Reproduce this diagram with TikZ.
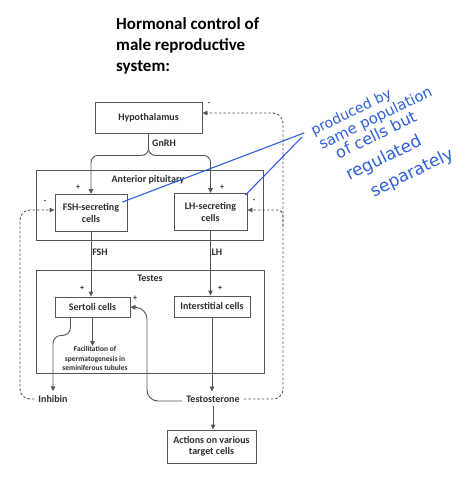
\documentclass[tikz,border=0pt]{standalone}
\usepackage{fontspec}
\setmainfont{Carlito}
\newfontfamily\hand{DejaVu Sans}
\usetikzlibrary{arrows.meta,calc}
\definecolor{lncol}{HTML}{555555}
\definecolor{txcol}{HTML}{2E2E2E}
\definecolor{ink}{HTML}{2F5FD9}
\tikzset{
  box/.style={draw=lncol,line width=0.9pt,fill=white,inner sep=0pt,align=center,
    font=\bfseries\fontsize{10}{11.5}\selectfont,text=txcol},
  cont/.style={draw=lncol,line width=0.9pt,inner sep=0pt},
  lbl/.style={font=\bfseries\fontsize{10}{11.5}\selectfont,text=txcol,inner sep=0pt},
  sgn/.style={font=\bfseries\fontsize{8}{9}\selectfont,text=txcol,inner sep=0pt},
  conn/.style={draw=lncol,line width=0.9pt},
  arr/.style={conn,-{Triangle[length=5pt,width=4.5pt]}},
  dsh/.style={conn,dash pattern=on 2.5pt off 2pt},
  darr/.style={dsh,-{Triangle[length=5pt,width=4.5pt]}},
  inkline/.style={draw=ink,line width=1.1pt,line cap=round},
  inktext/.style={text=ink,inner sep=0pt,align=left,font=\hand\fontsize{14.5}{16}\selectfont},
  ttl/.style={font=\bfseries\fontsize{17}{21}\selectfont,inner sep=0pt,anchor=base west}
}
\begin{document}
\begin{tikzpicture}[x=1pt,y=-1pt]
\useasboundingbox[fill=white] (0,0) rectangle (474,477);
% title
\node[ttl] (t1) at (116,29) {Hormonal control of};
\node[ttl] (t2) at (116,50) {male reproductive};
\node[ttl] (t3) at (116,71) {system:};
% containers
\node[cont,minimum width=227pt,minimum height=70pt] (ap) at (149.5,205) {};
\node[lbl] (aplbl) at (148,180) {Anterior pituitary};
\node[cont,minimum width=228pt,minimum height=103pt] (testes) at (150,321.5) {};
\node[lbl] (testeslbl) at (150,278) {Testes};
% boxes
\node[box,minimum width=107pt,minimum height=31pt] (hyp) at (148.5,117.5) {Hypothalamus};
\node[box,minimum width=72pt,minimum height=37pt] (fsh) at (91,213) {FSH-secreting\\cells};
\node[box,minimum width=73pt,minimum height=37pt] (lh) at (210.5,212) {LH-secreting\\cells};
\node[box,minimum width=75pt,minimum height=20pt] (sert) at (92.5,307) {Sertoli cells};
\node[box,minimum width=76pt,minimum height=21pt] (inter) at (212,306.5) {Interstitial cells};
\node[box,minimum width=89pt,minimum height=33pt] (act) at (211.5,446.5) {Actions on various\\target cells};
\node[lbl,align=center,font=\bfseries\fontsize{7.5}{9.6}\selectfont] (facil) at (95,358.5)
  {Facilitation of\\spermatogenesis in\\seminiferous tubules};
\node[lbl,inner sep=4pt] (inhibin) at (53,399) {Inhibin};
\node[lbl,inner sep=4pt] (testo) at (213,399) {Testosterone};
% labels
\node[lbl] (gnrh) at (164,143) {GnRH};
\node[lbl] (fshlbl) at (100,252) {FSH};
\node[lbl] (lhlbl) at (217,252) {LH};
\node[sgn] (p1) at (78,187) {+};
\node[sgn] (p2) at (222,187) {+};
\node[sgn] (p3) at (82,288) {+};
\node[sgn] (p4) at (220,288) {+};
\node[sgn] (p5) at (135,298) {+};
\node[sgn] (m1) at (45,202) {-};
\node[sgn] (m2) at (254,201) {-};
\node[sgn] (m3) at (209,104) {-};
% solid connectors
\draw[arr,rounded corners=7] (hyp.south) -- ++(0,22) -| (fsh.north);
\draw[arr,rounded corners=7] (hyp.south) -- ++(0,22) -| (lh.north);
\draw[arr] (fsh.south) -- (fsh.south |- sert.north);
\draw[arr] (lh.south) -- (lh.south |- inter.north);
\draw[arr] (sert.south) -- (sert.south |- facil.north);
\draw[arr,rounded corners=8] ([xshift=-22pt]sert.south) -- ++(0,18) -| (inhibin.north);
\draw[arr] (inter.south) -- (inter.south |- testo.north);
\draw[arr] (testo.south) -- (testo.south |- act.north);
\draw[arr,rounded corners=11] ([yshift=-2pt]testo.west) -| (147,308) -- (sert.east);
% dashed feedback
\coordinate (rb) at (283,399);
\coordinate (rt) at (283,113);
\coordinate (rm) at (283,226);
\coordinate (lb) at (20,399);
\coordinate (lt) at (20,210);
\draw[darr,rounded corners=10] (testo.east) -- (rb) -- (rt) -- ([yshift=4.5pt]hyp.east);
\draw[darr,rounded corners=6] (rm) -- (283,210) -- ([yshift=2pt]lh.east);
\draw[darr,rounded corners=10] (inhibin.west) -- (lb) -- (lt) -- ([yshift=3pt]fsh.west);
% handwritten note
\coordinate (apex) at (304,133);
\coordinate (apex2) at (302,137);
\draw[inkline] (apex) -- ([xshift=-5pt,yshift=11pt]fsh.east);
\draw[inkline] (apex2) -- ([xshift=-2pt,yshift=-2pt]lh.north east);
\node[inktext,rotate=26,anchor=north west] (note) at (309,126) {{\fontsize{14}{16}\selectfont produced by}\\
  \hspace*{1.3pt}{\fontsize{14.8}{16}\selectfont same population}\\
  \hspace*{12pt}{\fontsize{16}{16}\selectfont of cells but}\\[8pt]
  \hspace*{12pt}{\fontsize{17}{16}\selectfont regulated}\\[8pt]
  \hspace*{27pt}{\fontsize{17}{16}\selectfont separately}};
\end{tikzpicture}
\end{document}
